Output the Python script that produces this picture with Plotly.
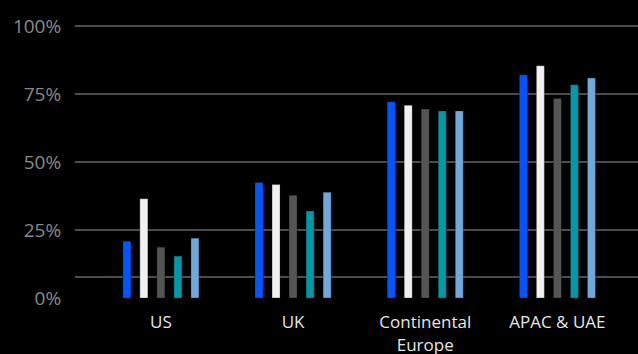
import plotly.graph_objects as go

categories = ["US", "UK", "Continental<br>Europe", "APAC & UAE"]
series_names = ["Series 1", "Series 2", "Series 3", "Series 4", "Series 5"]
series_values = [
    [20.9, 42.5, 72.2, 82.1],
    [36.5, 41.7, 70.9, 85.4],
    [18.7, 37.8, 69.5, 73.4],
    [15.4, 32.0, 68.8, 78.4],
    [22.0, 38.9, 68.8, 80.9],
]
colors = ["#0057ff", "#f0f0f0", "#555555", "#0099aa", "#6ea8dc"]
y_tickvals = [0, 25, 50, 75, 100]
y_ticktext = ["0%", "25%", "50%", "75%", "100%"]

fig = go.Figure()
for name, vals, col in zip(series_names, series_values, colors):
    fig.add_trace(go.Bar(
        x=categories, y=vals, name=name,
        marker=dict(color=col, line=dict(color="rgba(0,0,0,0.35)", width=0.8)),
    ))

fig.update_layout(
    width=638, height=354,
    paper_bgcolor="#000000", plot_bgcolor="#000000",
    margin=dict(l=75, r=0, t=25, b=56),
    barmode="group", bargap=0.356, bargroupgap=0.53,
    showlegend=False,
    font=dict(family="Open Sans, sans-serif"),
)
fig.update_xaxes(
    range=[-0.65, 3.61], showgrid=False, zeroline=False, showline=False,
    automargin=False,
    ticks="outside", ticklen=9, tickcolor="rgba(0,0,0,0)",
    tickfont=dict(color="#e6e6e6", size=17),
)
fig.update_yaxes(
    range=[0, 100.4], tickvals=y_tickvals, ticktext=y_ticktext,
    automargin=False,
    showgrid=True, gridcolor="#4c4c4c", gridwidth=1.5,
    zeroline=False, showline=False,
    ticks="outside", ticklen=9, tickcolor="rgba(0,0,0,0)",
    tickfont=dict(color="#8a8a8a", size=19),
    minor=dict(tickvals=[7.7], showgrid=True, gridcolor="#4c4c4c", gridwidth=1.5),
)

fig.write_html("out.html")
